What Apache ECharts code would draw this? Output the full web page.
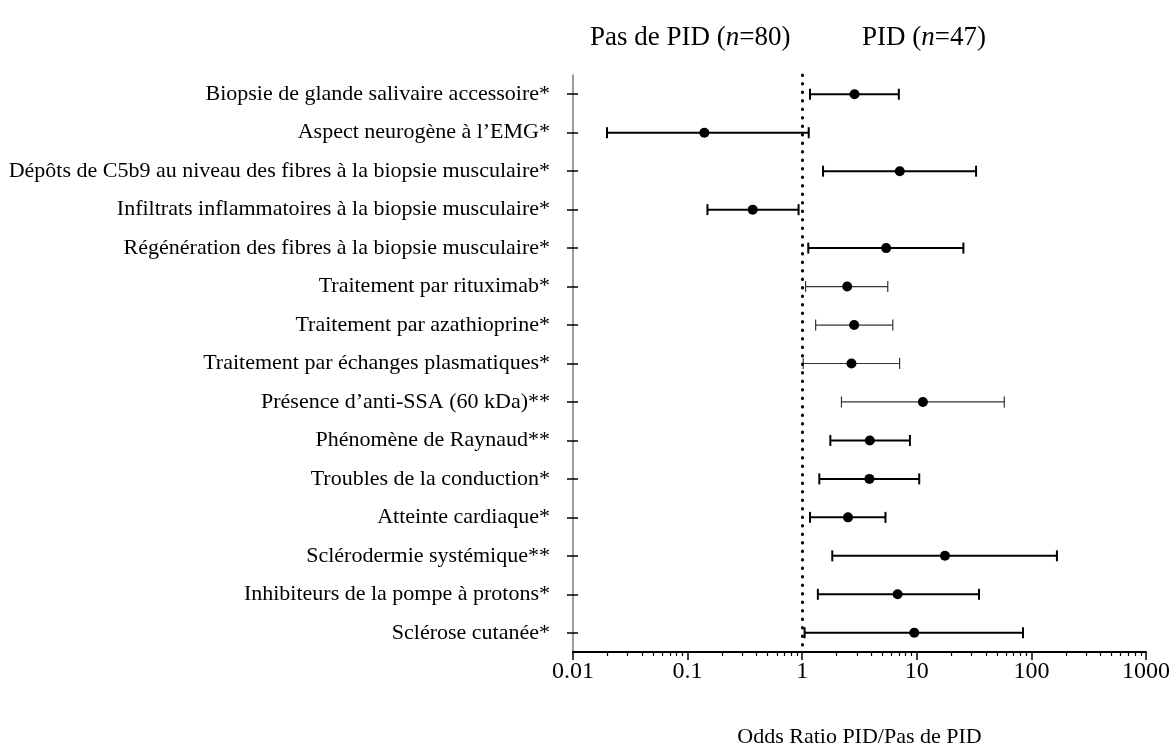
<!DOCTYPE html>
<html>
<head>
<meta charset="utf-8">
<script src="https://cdn.jsdelivr.net/npm/echarts@6/dist/echarts.min.js"></script>
<style>html,body{margin:0;padding:0;background:#fff;}#chart{width:1173px;height:753px;}</style>
</head>
<body>
<div id="chart"></div>
<script>
const categories = [
  "Biopsie de glande salivaire accessoire*",
  "Aspect neurogène à l\u2019EMG*",
  "Dépôts de C5b9 au niveau des fibres à la biopsie musculaire*",
  "Infiltrats inflammatoires à la biopsie musculaire*",
  "Régénération des fibres à la biopsie musculaire*",
  "Traitement par rituximab*",
  "Traitement par azathioprine*",
  "Traitement par échanges plasmatiques*",
  "Présence d\u2019anti-SSA (60 kDa)**",
  "Phénomène de Raynaud**",
  "Troubles de la conduction*",
  "Atteinte cardiaque*",
  "Sclérodermie systémique**",
  "Inhibiteurs de la pompe à protons*",
  "Sclérose cutanée*"
];
const oddsRatio = [2.86, 0.14, 7.1, 0.37, 5.4, 2.47, 2.84, 2.69, 11.3, 3.89, 3.86, 2.51, 17.6, 6.8, 9.5];
const ciLow     = [1.17, 0.0198, 1.52, 0.149, 1.13, 1.07, 1.31, 1.02, 2.2, 1.76, 1.41, 1.17, 1.83, 1.37, 1.05];
const ciHigh    = [6.97, 1.14, 32.9, 0.93, 25.5, 5.58, 6.17, 7.08, 58, 8.71, 10.5, 5.33, 167, 34.9, 84.5];
const majorTicks = [0.01, 0.1, 1, 10, 100, 1000];
const tickLabels = ["0.01", "0.1", "1", "10", "100", "1000"];
const minorTicks = [];
[0.01, 0.1, 1, 10, 100].forEach(function (d) { for (let m = 2; m <= 9; m++) minorTicks.push(+(m * d).toPrecision(3)); });
const headerLeft = "Pas de PID (n=80)";
const headerRight = "PID (n=47)";
const xAxisName = "Odds Ratio PID/Pas de PID";

const thinRows = [5, 6, 7, 8];
const FONT = "Liberation Serif";

const chart = echarts.init(document.getElementById('chart'), null, {renderer: 'canvas'});

const ciData = categories.map(function (c, i) { return [ciLow[i], ciHigh[i], i]; });
const pointData = categories.map(function (c, i) { return [oddsRatio[i], i]; });

function header(text) {
  const m = text.match(/^(.*\()n(=.*)$/);
  return '{a|' + m[1] + '}{i|n}{a|' + m[2] + '}';
}
const headerRich = {
  a: {fontFamily: FONT, fontSize: 27, fontWeight: 'normal', color: '#000'},
  i: {fontFamily: FONT, fontSize: 27, fontWeight: 'normal', fontStyle: 'italic', color: '#000'}
};

const option = {
  animation: false,
  backgroundColor: '#fff',
  title: [
    { text: header(headerLeft), left: 585, top: 19, textStyle: { fontWeight: 'normal', rich: headerRich } },
    { text: header(headerRight), left: 857, top: 19, textStyle: { fontWeight: 'normal', rich: headerRich } }
  ],
  grid: { left: 573, right: 25, top: 75, bottom: 93, containLabel: false },
  xAxis: [
    {
      type: 'log', logBase: 10, min: 0.01, max: 1000,
      splitLine: {show: false},
      axisLine: {show: true, onZero: false, lineStyle: {color: '#000', width: 2}},
      axisTick: {show: true, length: 8, lineStyle: {color: '#000', width: 1.5}, customValues: majorTicks},
      axisLabel: {show: true, fontFamily: FONT, fontSize: 24, color: '#000', margin: 8,
        customValues: majorTicks,
        formatter: function (v) { const k = majorTicks.findIndex(function (t) { return Math.abs(t - v) / t < 1e-6; }); return k >= 0 ? tickLabels[k] : ''; } },
      name: xAxisName, nameLocation: 'middle', nameGap: 74,
      nameTextStyle: {fontFamily: FONT, fontSize: 22, color: '#000'}
    },
    {
      type: 'log', logBase: 10, min: 0.01, max: 1000, position: 'bottom',
      splitLine: {show: false},
      axisLine: {show: false},
      axisTick: {show: true, length: 4, lineStyle: {color: '#000', width: 1.2}, customValues: minorTicks},
      axisLabel: {show: false}
    }
  ],
  yAxis: [
    {
      type: 'category', data: categories, inverse: true,
      axisLine: {show: true, lineStyle: {color: '#7a7a7a', width: 1.5}},
      axisTick: {show: true, alignWithLabel: true, length: 6, lineStyle: {color: '#000', width: 1.5}},
      axisLabel: {fontFamily: FONT, fontSize: 22, color: '#000', margin: 23},
      splitLine: {show: false}
    },
    {
      type: 'category', data: categories, inverse: true, position: 'left', offset: 0,
      axisLine: {show: false},
      axisTick: {show: true, inside: true, alignWithLabel: true, length: 5, lineStyle: {color: '#000', width: 1.5}},
      axisLabel: {show: false},
      splitLine: {show: false}
    }
  ],
  series: [
    {
      type: 'custom',
      xAxisIndex: 0, yAxisIndex: 0,
      data: ciData,
      encode: {x: [0, 1], y: 2},
      renderItem: function (params, api) {
        const idx = api.value(2);
        const p1 = api.coord([api.value(0), idx]);
        const p2 = api.coord([api.value(1), idx]);
        const thin = thinRows.indexOf(idx) >= 0;
        const style = {stroke: thin ? '#333' : '#000', lineWidth: thin ? 1.2 : 2};
        const h = 5.5;
        return {
          type: 'group',
          children: [
            {type: 'line', shape: {x1: p1[0], y1: p1[1], x2: p2[0], y2: p2[1]}, style: style},
            {type: 'line', shape: {x1: p1[0], y1: p1[1] - h, x2: p1[0], y2: p1[1] + h}, style: style},
            {type: 'line', shape: {x1: p2[0], y1: p2[1] - h, x2: p2[0], y2: p2[1] + h}, style: style}
          ]
        };
      },
      z: 3
    },
    {
      type: 'scatter',
      xAxisIndex: 0, yAxisIndex: 0,
      data: pointData,
      symbol: 'circle', symbolSize: 10,
      itemStyle: {color: '#000', opacity: 1},
      z: 4,
      markLine: {
        silent: true, symbol: 'none', label: {show: false},
        lineStyle: {color: '#000', width: 3, type: [0.5, 8], cap: 'round', opacity: 1},
        data: [{xAxis: 1}]
      }
    }
  ]
};
chart.setOption(option);
</script>
</body>
</html>
